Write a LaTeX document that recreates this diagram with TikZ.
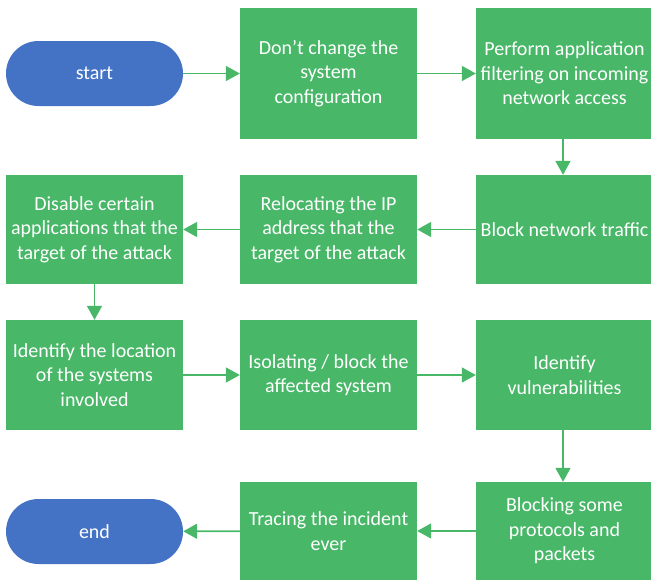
\documentclass[tikz,border=0pt]{standalone}
\usepackage{fontspec}
\setmainfont{Carlito}
\usetikzlibrary{arrows.meta}
\definecolor{flowgreen}{RGB}{72,183,104}
\definecolor{flowblue}{RGB}{68,114,196}
\begin{document}
\begin{tikzpicture}[x=1pt,y=-1pt,
  stepbox/.style={rectangle,fill=flowgreen,draw=none,minimum width=177pt,
    text=white,align=center,font=\fontsize{20}{24.5}\selectfont,inner sep=0pt},
  term/.style={rectangle,rounded corners=32.5pt,fill=flowblue,draw=none,minimum width=177pt,
    minimum height=65pt,text=white,font=\fontsize{20}{24.5}\selectfont},
  flow/.style={draw=flowgreen,line width=1.8pt,-{Triangle[length=14pt,width=15pt]}}]
\useasboundingbox (0,0) rectangle (651,581);
\clip (0,0) rectangle (651,581);
% terminals
\node[term] (start) at (94.5,73.5) {start};
\node[term] (end) at (94.5,531.5) {end};
% row 1
\node[stepbox,minimum height=131pt] (b1) at (328.5,73.5) {Don’t change the\\system\\configuration};
\node[stepbox,minimum height=131pt] (b2) at (564.5,73.5) {Perform application\\filtering on incoming\\network access};
% row 2
\node[stepbox,minimum height=109pt] (b3) at (564.5,229.5) {Block network traffic};
\node[stepbox,minimum height=109pt] (b4) at (328.5,229.5) {Relocating the IP\\address that the\\target of the attack};
\node[stepbox,minimum height=109pt] (b5) at (94.5,229.5) {Disable certain\\applications that the\\target of the attack};
% row 3
\node[stepbox,minimum height=110pt] (b6) at (94.5,375) {Identify the location\\of the systems\\involved};
\node[stepbox,minimum height=110pt] (b7) at (328.5,375) {Isolating / block the\\affected system};
\node[stepbox,minimum height=110pt] (b8) at (564.5,375) {Identify\\vulnerabilities};
% row 4
\node[stepbox,minimum height=98pt] (b9) at (564.5,531) {Blocking some\\protocols and\\packets};
\node[stepbox,minimum height=98pt] (b10) at (328.5,531) {Tracing the incident\\ever};
% connectors
\draw[flow] (start) -- (b1);
\draw[flow] (b1) -- (b2);
\draw[flow] (b2.south -| 563,0) -- (b3.north -| 563,0);
\draw[flow] (b3) -- (b4);
\draw[flow] (b4) -- (b5);
\draw[flow] (b5) -- (b6);
\draw[flow] (b6) -- (b7);
\draw[flow] (b7) -- (b8);
\draw[flow] (b8.south -| 563,0) -- (b9.north -| 563,0);
\draw[flow] (b9) -- (b10);
\draw[flow] (b10) -- (end);
\end{tikzpicture}
\end{document}
